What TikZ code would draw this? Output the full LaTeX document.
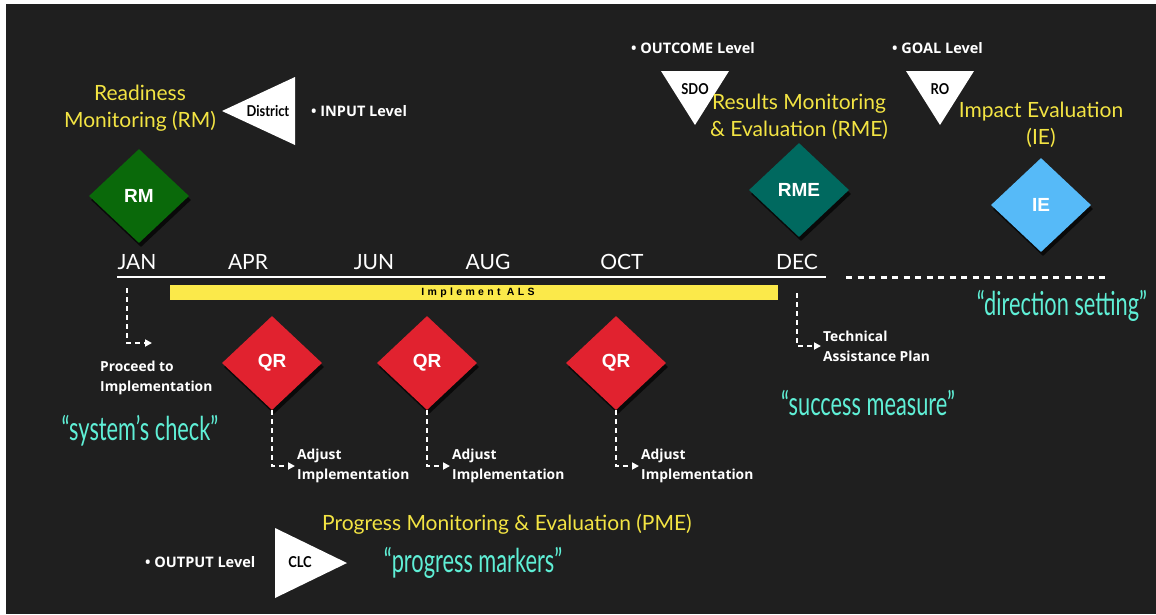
\documentclass[tikz,border=0pt]{standalone}
\usepackage{fontspec}
\setmainfont{Lato}
\newfontfamily\labfont{Open Sans}
\newfontfamily\diafont{Liberation Sans}
\newfontfamily\condfont[FakeStretch=0.66]{Lato}
\newfontfamily\trifont[FakeStretch=0.86]{Lato}
\newfontfamily\barfont[LetterSpace=32]{Liberation Sans}
\usetikzlibrary{shapes.geometric,arrows.meta,shadows}

\definecolor{bgdark}{HTML}{1F1F1F}
\definecolor{titleyellow}{HTML}{F3E443}
\definecolor{baryellow}{HTML}{FBE94A}
\definecolor{quotecyan}{HTML}{5FEFD6}
\definecolor{rmgreen}{HTML}{0A690A}
\definecolor{rmeteal}{HTML}{00695F}
\definecolor{qrred}{HTML}{E1222F}
\definecolor{ieblue}{HTML}{56BAF8}

\tikzset{
  diam/.style={diamond, minimum width=100pt, minimum height=94pt, inner sep=0pt,
    text=white, font=\diafont\bfseries\fontsize{19}{19}\selectfont,
    drop shadow={shadow xshift=2pt, shadow yshift=-4pt, opacity=0.7, fill=black}},
  month/.style={text=white, font=\fontsize{21}{21}\selectfont, inner sep=0pt},
  lab/.style={text=white, font=\labfont\bfseries\fontsize{13.8}{20}\selectfont,
    align=left, inner sep=2pt},
  bullet/.style={text=white, font=\labfont\bfseries\fontsize{14.5}{14.5}\selectfont,
    anchor=west, inner sep=0pt},
  yel/.style={text=titleyellow, font=\fontsize{21}{27}\selectfont, align=center, inner sep=0pt},
  quote/.style={text=quotecyan, font=\condfont\fontsize{33}{33}\selectfont, inner sep=0pt},
  trilabel/.style={text=black, font=\trifont\bfseries\fontsize{15}{15}\selectfont, inner sep=0pt},
  dasharrow/.style={white, line width=1.8pt, dash pattern=on 5pt off 4pt,
    -{Triangle[length=7pt,width=7pt]}},
}

\begin{document}
\begin{tikzpicture}[x=1pt,y=-1pt]
\useasboundingbox (0,0) rectangle (1156,614);
\fill[white] (0,0) rectangle (1156,614);
\fill[bgdark] (6,4) rectangle (1156,614);

% level triangles
\fill[white] (222,111) -- (295,77) -- (295,145) -- cycle;
\node[trilabel] (district) at (268,111) {District};
\fill[white] (661,71) -- (729,71) -- (695,125) -- cycle;
\node[trilabel] (sdo) at (695,89) {SDO};
\fill[white] (906,71) -- (974,71) -- (940,125) -- cycle;
\node[trilabel] (ro) at (940,89) {RO};
\fill[white] (275,528) -- (275,598) -- (347,563) -- cycle;
\node[trilabel] (clc) at (300,562) {CLC};

% level bullets
\node[bullet] (input) at (311,111) {• INPUT Level};
\node[bullet] (outcome) at (631,48) {• OUTCOME Level};
\node[bullet] (goal) at (892,48) {• GOAL Level};
\node[bullet] (output) at (145,562) {• OUTPUT Level};

% titles
\node[yel] (rmtitle) at (140,108) {Readiness\\Monitoring (RM)};
\node[yel] (rmetitle) at (799,117) {Results Monitoring\\\& Evaluation (RME)};
\node[yel] (ietitle) at (1041,125) {Impact Evaluation\\(IE)};
\node[yel] (pmetitle) at (507,524) {Progress Monitoring \& Evaluation (PME)};

% milestones
\node[diam, fill=rmgreen] (rm) at (139,196) {RM};
\node[diam, fill=rmeteal] (rme) at (799,190) {RME};
\node[diam, fill=ieblue] (ie) at (1041,205) {IE};
\node[diam, fill=qrred] (qr1) at (272,363) {QR};
\node[diam, fill=qrred] (qr2) at (427,363) {QR};
\node[diam, fill=qrred] (qr3) at (616,363) {QR};

% months and timeline
\node[month] (jan) at (137,262) {JAN};
\node[month] (apr) at (248,262) {APR};
\node[month] (jun) at (374,262) {JUN};
\node[month] (aug) at (488,262) {AUG};
\node[month] (oct) at (622,262) {OCT};
\node[month] (dec) at (797,262) {DEC};
\coordinate (tl0) at (117,277);
\coordinate (tl1) at (826,277);
\coordinate (tl2) at (846,277);
\coordinate (tl3) at (1106,277);
\draw[white, line width=2pt] (tl0) -- (tl1);
\draw[white, line width=3pt, dash pattern=on 6pt off 5.5pt] (tl2) -- (tl3);

\node[fill=baryellow, minimum width=608pt, minimum height=15pt, inner sep=0pt,
  font=\barfont\bfseries\fontsize{10.5}{10.5}\selectfont] (als) at (474,292.5) {\hspace{8pt}Implement ALS};

% follow-up actions
\coordinate (jdrop) at (127,288);
\coordinate (jend) at (152,343);
\draw[dasharrow] (jdrop) |- (jend);
\node[lab, anchor=north west] (proceed) at (98,359) {Proceed to\\Implementation};

\node[lab, anchor=west] (adj1) at (295,466) {Adjust\\Implementation};
\node[lab, anchor=west] (adj2) at (450,466) {Adjust\\Implementation};
\node[lab, anchor=west] (adj3) at (639,466) {Adjust\\Implementation};
\draw[dasharrow] (qr1.south) |- (adj1.west);
\draw[dasharrow] (qr2.south) |- (adj2.west);
\draw[dasharrow] (qr3.south) |- (adj3.west);

\coordinate (decdrop) at (797,293);
\node[lab, anchor=west] (tap) at (821,346) {Technical\\Assistance Plan};
\draw[dasharrow] (decdrop) |- (tap.west);

% quotes
\node[quote] (syscheck) at (140,431) {“system’s check”};
\node[quote] (success) at (868,403) {“success measure”};
\node[quote] (direction) at (1062,306) {“direction setting”};
\node[quote] (markers) at (473,563) {“progress markers”};
\end{tikzpicture}
\end{document}
